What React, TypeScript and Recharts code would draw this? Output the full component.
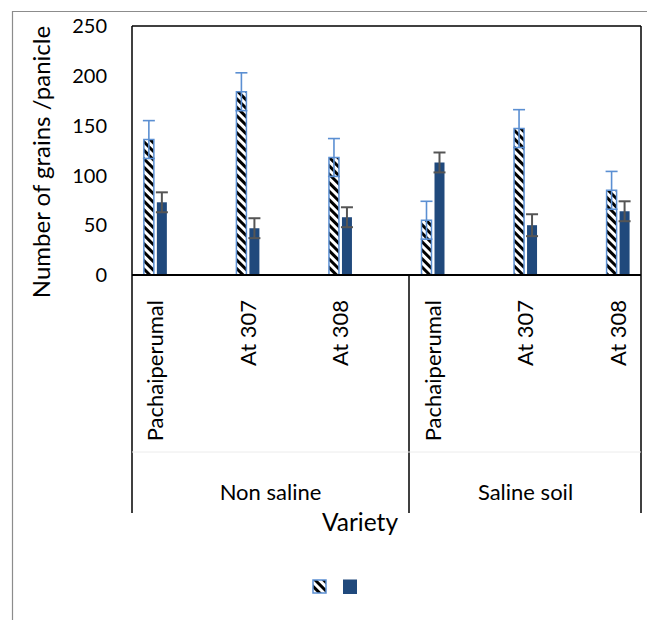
import React from 'react';
import { BarChart, Bar, XAxis, YAxis, ErrorBar, Legend } from 'recharts';

const varieties = ['Pachaiperumal', 'At 307', 'At 308', 'Pachaiperumal', 'At 307', 'At 308'];
const soilGroups = ['Non saline', 'Saline soil'];
const hatchedValues = [136, 184, 118, 55, 147, 85];
const hatchedErrors = [19, 19, 19, 19, 19, 19];
const solidValues = [73, 47, 58, 113, 50, 64];
const solidErrors = [10, 10, 10, 10, 11, 10];
const yTicks = [0, 50, 100, 150, 200, 250];

const FONT = 'Lato, "Open Sans", sans-serif';
const HATCH_BLUE = '#5b8fd2';
const SOLID_BLUE = '#20497c';

const chartData = varieties.map((name, i) => ({
  idx: i,
  name,
  hatched: hatchedValues[i],
  hatchedErr: hatchedErrors[i],
  solid: solidValues[i],
  solidErr: solidErrors[i],
}));

function VarietyTick({ x, y, payload }: any) {
  const label = varieties[payload.value];
  const tx = x + 8;
  const ty = y + 25;
  return (
    <text
      x={tx}
      y={ty}
      transform={`rotate(-90 ${tx} ${ty})`}
      textAnchor="end"
      fontFamily={FONT}
      fontSize={22}
      fill="#000"
    >
      {label}
    </text>
  );
}

function LegendIcons({ payload }: any) {
  return (
    <div style={{ position: 'relative', height: 16 }}>
      {(payload || []).map((entry: any, i: number) => (
        <svg
          key={i}
          width={16}
          height={16}
          style={{ position: 'absolute', left: 312 + i * 30, top: 0 }}
        >
          {entry.dataKey === 'hatched' ? (
            <rect x={1} y={1} width={13} height={13} fill="url(#hatch)" stroke={HATCH_BLUE} strokeWidth={1.5} />
          ) : (
            <rect x={1} y={0.5} width={14} height={14.5} fill={SOLID_BLUE} />
          )}
        </svg>
      ))}
    </div>
  );
}

export default function App() {
  return (
    <div style={{ position: 'relative', width: 647, height: 620, background: '#fff' }}>
      <style>{'body{margin:0;overflow:hidden}'}</style>
      <svg width={647} height={620} style={{ position: 'absolute', left: 0, top: 0 }}>
        {/* outer frame, cut at the right and bottom */}
        <line x1={12} y1={11.5} x2={647} y2={11.5} stroke="#8c8c8c" strokeWidth={1.2} />
        <line x1={12.5} y1={11} x2={12.5} y2={620} stroke="#8c8c8c" strokeWidth={1.2} />
        {/* plot frame and category boxes */}
        <line x1={132} y1={26} x2={641} y2={26} stroke="#000" strokeWidth={1.5} />
        <line x1={132} y1={26} x2={132} y2={513} stroke="#000" strokeWidth={1.5} />
        <line x1={641} y1={26} x2={641} y2={513} stroke="#000" strokeWidth={1.5} />
        <line x1={409} y1={275} x2={409} y2={513} stroke="#000" strokeWidth={1.5} />
        <line x1={132} y1={452} x2={641} y2={452} stroke="#ececec" strokeWidth={1} />
        <text
          x={50}
          y={162}
          transform="rotate(-90 50 162)"
          textAnchor="middle"
          fontFamily={FONT}
          fontSize={24}
          fill="#000"
        >
          Number of grains /panicle
        </text>
        <text x={270.5} y={500} textAnchor="middle" fontFamily={FONT} fontSize={22} fill="#000">
          {soilGroups[0]}
        </text>
        <text x={525.5} y={500} textAnchor="middle" fontFamily={FONT} fontSize={22} fill="#000">
          {soilGroups[1]}
        </text>
        <text x={360} y={531} textAnchor="middle" fontFamily={FONT} fontSize={24.5} fill="#000">
          Variety
        </text>
      </svg>
      <div style={{ position: 'absolute', left: 0, top: 0 }}>
        <BarChart
          width={647}
          height={620}
          data={chartData}
          margin={{ top: 26, right: 6, left: 0, bottom: 107 }}
          barSize={10}
          barGap={3}
        >
          <defs>
            <pattern
              id="hatch"
              patternUnits="userSpaceOnUse"
              width={6}
              height={6}
              patternTransform="rotate(-45)"
            >
              <rect x={0} y={0} width={6} height={6} fill="#fff" />
              <rect x={0} y={0} width={3} height={6} fill="#000" />
            </pattern>
          </defs>
          <XAxis
            dataKey="idx"
            type="number"
            domain={[-0.25, 5.25]}
            ticks={[0, 1, 2, 3, 4, 5]}
            interval={0}
            height={238}
            axisLine={{ stroke: '#000', strokeWidth: 2 }}
            tickLine={false}
            tickSize={0}
            tickMargin={0}
            tick={<VarietyTick />}
          />
          <YAxis
            width={132}
            domain={[0, 250]}
            ticks={yTicks}
            interval={0}
            axisLine={false}
            tickLine={false}
            tickSize={0}
            tickMargin={25}
            tick={{ fontFamily: FONT, fontSize: 20, fill: '#000' }}
          />
          <Legend
            verticalAlign="middle"
            align="center"
            content={<LegendIcons />}
            wrapperStyle={{ top: 579, left: 0, width: 647 }}
          />
          <Bar
            dataKey="hatched"
            fill="url(#hatch)"
            stroke={HATCH_BLUE}
            strokeWidth={1.5}
            isAnimationActive={false}
          >
            <ErrorBar dataKey="hatchedErr" direction="y" width={6} stroke={HATCH_BLUE} strokeWidth={1.6} />
          </Bar>
          <Bar dataKey="solid" fill={SOLID_BLUE} isAnimationActive={false}>
            <ErrorBar dataKey="solidErr" direction="y" width={6} stroke="#555" strokeWidth={2} />
          </Bar>
        </BarChart>
      </div>
    </div>
  );
}
